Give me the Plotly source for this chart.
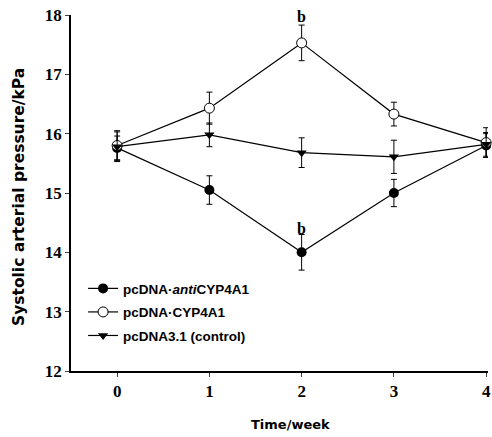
import plotly.graph_objects as go

weeks = [0, 1, 2, 3, 4]
anti_vals = [15.76, 15.05, 14.0, 15.0, 15.8]
anti_err = [0.2, 0.24, 0.3, 0.23, 0.2]
cyp_vals = [15.8, 16.43, 17.53, 16.33, 15.85]
cyp_err = [0.25, 0.27, 0.3, 0.2, 0.25]
ctrl_vals = [15.78, 15.98, 15.68, 15.61, 15.82]
ctrl_err = [0.25, 0.2, 0.25, 0.28, 0.2]
y_ticks = [12, 13, 14, 15, 16, 17, 18]
x_ticks = [0, 1, 2, 3, 4]
sig_labels = ["b", "b"]
sig_x = [2, 2]
sig_y = [17.98, 14.4]

names = ["pcDNA·<i>anti</i>CYP4A1", "pcDNA·CYP4A1", "pcDNA3.1 (control)"]
x_title = "Time/week"
y_title = "Systolic arterial pressure/kPa"

fig = go.Figure()
markers = [
    dict(symbol="circle", color="black", size=10),
    dict(symbol="circle", color="white", size=10, line=dict(color="black", width=1)),
    dict(symbol="triangle-down", color="black", size=9),
]
for i, (nm, v, e, mk) in enumerate(zip(names, [anti_vals, cyp_vals, ctrl_vals], [anti_err, cyp_err, ctrl_err], markers)):
    fig.add_trace(go.Scatter(
        x=weeks, y=v, name=nm, mode="lines+markers", cliponaxis=False,
        legendgroup="g%d" % i,
        line=dict(color="black", width=1.2),
        marker=mk,
        error_y=dict(type="data", array=e, color="black", thickness=1, width=3),
    ))

for t, xx, yy in zip(sig_labels, sig_x, sig_y):
    fig.add_annotation(x=xx, y=yy, text="<b>" + t + "</b>", showarrow=False,
                       font=dict(family="Liberation Serif", size=16, color="black"))

# axis titles placed as in the reference
fig.add_annotation(xref="paper", yref="paper", x=(19 - 71) / 417, y=(371 - 197) / 356,
                   text="<b>" + y_title + "</b>", textangle=-90, showarrow=False,
                   xanchor="center", yanchor="middle",
                   font=dict(family="DejaVu Sans", size=15.5, color="black"))
fig.add_annotation(xref="paper", yref="paper", x=(290 - 71) / 417, y=-(424 - 371) / 356,
                   text="<b>" + x_title + "</b>", showarrow=False,
                   xanchor="center", yanchor="middle",
                   font=dict(family="DejaVu Sans", size=13, color="black"))

fig.update_layout(
    width=492, height=437,
    margin=dict(l=71, r=4, t=15, b=66),
    paper_bgcolor="white", plot_bgcolor="white",
    showlegend=True,
    legend=dict(x=0.029, y=0.275, xanchor="left", yanchor="top",
                font=dict(family="Liberation Sans", size=13.5, color="black", weight="bold"),
                bgcolor="rgba(0,0,0,0)", tracegroupgap=3, itemwidth=30),
    xaxis=dict(range=[-0.5, 4.02], tickvals=x_ticks, ticks="outside", ticklen=4, automargin=False,
               showline=True, linecolor="black", linewidth=1.5, showgrid=False, zeroline=False,
               tickfont=dict(family="Liberation Serif", size=17, color="black", weight="bold")),
    yaxis=dict(range=[12, 18], tickvals=y_ticks, ticks="outside", ticklen=4, automargin=False,
               showline=True, linecolor="black", linewidth=1.5, showgrid=False, zeroline=False,
               tickfont=dict(family="Liberation Serif", size=17, color="black", weight="bold")),
)
fig.write_html("out.html", config={"displayModeBar": False},
               post_script="document.body.style.margin='0px';document.body.style.overflow='hidden';")
